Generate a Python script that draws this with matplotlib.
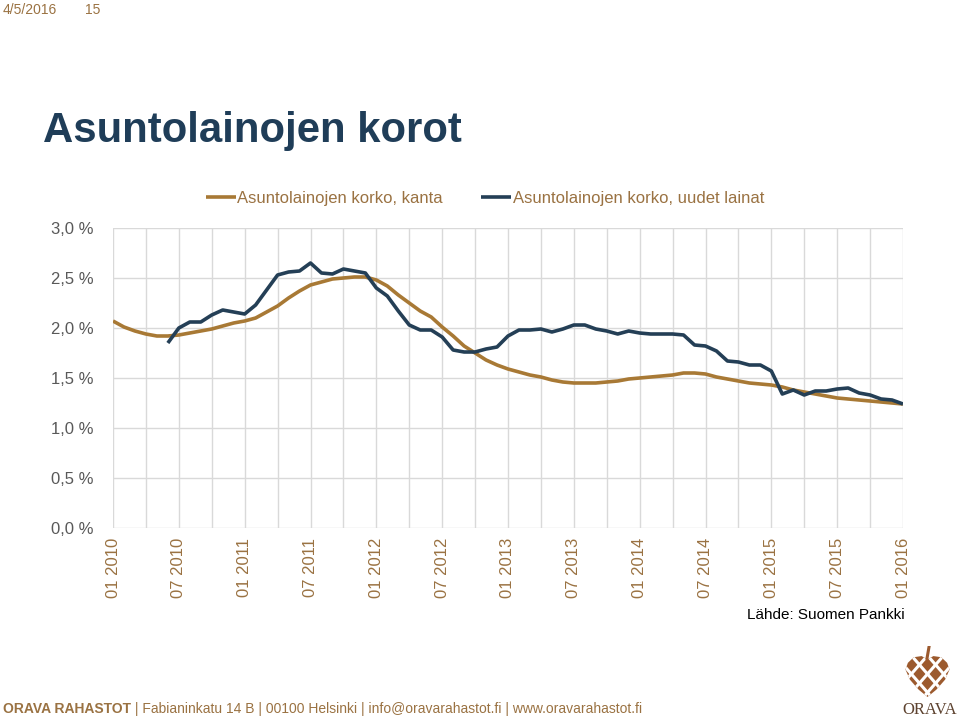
import numpy as np
import matplotlib
matplotlib.use("Agg")
import matplotlib.pyplot as plt
from matplotlib.patches import Polygon

# Asuntolainojen korot 01/2010 - 01/2016, kuukausittain (%)
kanta = [
    2.07, 2.01, 1.97, 1.94, 1.92, 1.92, 1.93, 1.95, 1.97, 1.99, 2.02, 2.05,
    2.07, 2.10, 2.16, 2.22, 2.30, 2.37, 2.43, 2.46, 2.49, 2.50, 2.51, 2.51,
    2.48, 2.42, 2.33, 2.25, 2.17, 2.11, 2.01, 1.92, 1.82, 1.75, 1.68, 1.63,
    1.59, 1.56, 1.53, 1.51, 1.48, 1.46, 1.45, 1.45, 1.45, 1.46, 1.47, 1.49,
    1.50, 1.51, 1.52, 1.53, 1.55, 1.55, 1.54, 1.51, 1.49, 1.47, 1.45, 1.44,
    1.43, 1.41, 1.38, 1.36, 1.34, 1.32, 1.30, 1.29, 1.28, 1.27, 1.26, 1.25,
    1.24,
]
uudet = [
    np.nan, np.nan, np.nan, np.nan, np.nan, 1.85, 2.00, 2.06, 2.06, 2.13, 2.18, 2.16,
    2.14, 2.23, 2.38, 2.53, 2.56, 2.57, 2.65, 2.55, 2.54, 2.59, 2.57, 2.55,
    2.40, 2.32, 2.17, 2.03, 1.98, 1.98, 1.91, 1.78, 1.76, 1.76, 1.79, 1.81,
    1.92, 1.98, 1.98, 1.99, 1.96, 1.99, 2.03, 2.03, 1.99, 1.97, 1.94, 1.97,
    1.95, 1.94, 1.94, 1.94, 1.93, 1.83, 1.82, 1.77, 1.67, 1.66, 1.63, 1.63,
    1.57, 1.34, 1.38, 1.33, 1.37, 1.37, 1.39, 1.40, 1.35, 1.33, 1.29, 1.28,
    1.24,
]
x_labels = ["01 2010", "07 2010", "01 2011", "07 2011", "01 2012", "07 2012",
            "01 2013", "07 2013", "01 2014", "07 2014", "01 2015", "07 2015",
            "01 2016"]
y_ticks = [0.0, 0.5, 1.0, 1.5, 2.0, 2.5, 3.0]

BROWN = "#A87935"
NAVY = "#243F56"
TEXT_BROWN = "#9A7242"
GRAY = "#595959"
LOGO = "#9C5A2E"

plt.rcParams["font.family"] = ["Liberation Sans", "DejaVu Sans"]

W, H = 960, 719
fig = plt.figure(figsize=(W / 100, H / 100), dpi=100)


def fx(px):
    return px / W


def fy(py):
    return 1 - py / H


ax = fig.add_axes([fx(113), fy(528), fx(903) - fx(113), fy(228) - fy(528)])
months = np.arange(len(kanta))
ax.plot(months, kanta, color=BROWN, lw=2.6, label="Asuntolainojen korko, kanta",
        solid_capstyle="butt")
ax.plot(months, uudet, color=NAVY, lw=2.6, label="Asuntolainojen korko, uudet lainat",
        solid_capstyle="butt")

ax.set_xlim(0, len(kanta) - 1)
ax.set_ylim(0, 3.0)
ax.set_xticks(np.arange(0, len(kanta), 6))
ax.set_xticks(np.arange(0, len(kanta), 3), minor=True)
ax.set_xticklabels(x_labels, rotation=90, color=TEXT_BROWN, fontsize=12)
ax.set_yticks(y_ticks)
ax.set_yticklabels([f"{v:.1f} %".replace(".", ",") for v in y_ticks],
                   color=GRAY, fontsize=12)
ax.grid(True, which="both", color="#D9D9D9", lw=1)
ax.tick_params(length=0, which="both", pad=14)
ax.tick_params(axis="x", pad=7)
for s in ax.spines.values():
    s.set_visible(False)
ax.set_axisbelow(True)

fig.legend(loc="center", bbox_to_anchor=(fx(485), fy(198)), ncol=2, frameon=False,
           fontsize=12, handlelength=1.8, handletextpad=0.1, columnspacing=2.3,
           labelcolor=TEXT_BROWN)

fig.text(fx(3), fy(10), "4/5/2016", fontsize=10, color=TEXT_BROWN, va="center")
fig.text(fx(85), fy(10), "15", fontsize=10, color=TEXT_BROWN, va="center")
fig.text(fx(43), fy(131), "Asuntolainojen korot", fontsize=30.2, fontweight="bold",
         color="#1F3D58", va="center")
fig.text(fx(905), fy(615), "Lähde: Suomen Pankki", fontsize=11, color="black",
         ha="right", va="center")

t = fig.text(fx(3), fy(709), "ORAVA RAHASTOT", fontsize=10, fontweight="bold",
             color=TEXT_BROWN, va="center")
fig.canvas.draw()
bb = t.get_window_extent()
fig.text(bb.x1 / W, fy(709),
         " | Fabianinkatu 14 B | 00100 Helsinki | info@oravarahastot.fi | www.oravarahastot.fi",
         fontsize=10, color=TEXT_BROWN, va="center")

# logo
lax = fig.add_axes([fx(903), fy(702), fx(952) - fx(903), fy(646) - fy(702)])
lax.set_xlim(0, 1)
lax.set_ylim(0, 1)
lax.axis("off")
cone = Polygon([(0.5, 0.76), (0.62, 0.82), (0.78, 0.80), (0.9, 0.70), (0.95, 0.58),
                (0.86, 0.40), (0.68, 0.22), (0.5, 0.09), (0.32, 0.22), (0.14, 0.40),
                (0.05, 0.58), (0.1, 0.70), (0.22, 0.80), (0.38, 0.82)],
               closed=True, facecolor=LOGO, edgecolor="none")
lax.add_patch(cone)
for c in np.arange(-1.65, 1.7, 0.33):
    l1, = lax.plot([-1, 2], [-1 + c, 2 + c], color="white", lw=2.2)
    l2, = lax.plot([-1, 2], [2 - c, -1 - c], color="white", lw=2.2)
    l1.set_clip_path(cone)
    l2.set_clip_path(cone)
lax.plot([0.49, 0.53], [0.78, 0.98], color=LOGO, lw=2.2)
fig.text(fx(930), fy(710), "ORAVA", fontsize=12, color="#5E4330", ha="center",
         va="center", family=["Liberation Serif", "DejaVu Serif"])

fig.savefig("out.png", dpi=100)
